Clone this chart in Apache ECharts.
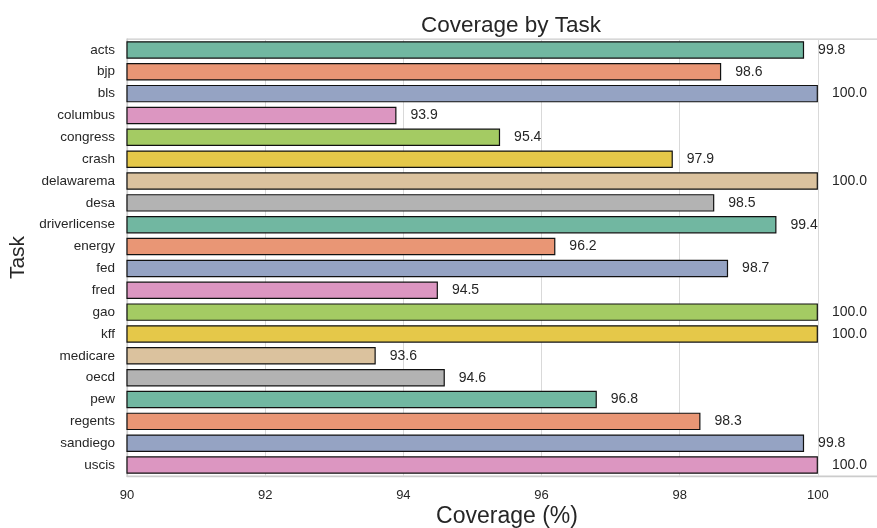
<!DOCTYPE html>
<html>
<head>
<meta charset="utf-8">
<script src="https://cdn.jsdelivr.net/npm/echarts@6/dist/echarts.min.js"></script>
<style>
html,body{margin:0;padding:0;background:#fff;}
#chart{width:877px;height:528px;}
</style>
</head>
<body>
<div id="chart"></div>
<script>
const categories = ["acts","bjp","bls","columbus","congress","crash","delawarema","desa","driverlicense","energy","fed","fred","gao","kff","medicare","oecd","pew","regents","sandiego","uscis"];
const coverage = [99.8,98.6,100.0,93.9,95.4,97.9,100.0,98.5,99.4,96.2,98.7,94.5,100.0,100.0,93.6,94.6,96.8,98.3,99.8,100.0];
const palette = ["#71b7a1","#e99675","#95a3c3","#dc96c1","#a4cb63","#e5c849","#dbc29e","#b3b3b3"];

const font = "'Liberation Sans', Arial, sans-serif";
const chart = echarts.init(document.getElementById('chart'), null, {renderer:'canvas'});
chart.setOption({
  backgroundColor:'#ffffff',
  animation:false,
  title:{
    text:'Coverage by Task',
    left:506, top:9, textAlign:'center',
    textStyle:{fontFamily:font, fontSize:22.5, fontWeight:'normal', color:'#262626'}
  },
  grid:{
    left:127, top:39, width:760, height:437,
    outerBoundsMode:'none', containLabel:false,
    show:true, borderColor:'#cccccc', borderWidth:1.25, backgroundColor:'transparent'
  },
  xAxis:{
    type:'value', min:90, max:101, interval:2,
    name:'Coverage (%)', nameLocation:'middle', nameGap:29, nameMoveOverlap:false,
    nameTextStyle:{fontFamily:font, fontSize:23, color:'#262626', align:'center'},
    axisLine:{show:true, lineStyle:{color:'#cccccc', width:1.25}},
    axisTick:{show:false},
    axisLabel:{fontFamily:font, fontSize:13, color:'#262626', margin:13,
      formatter:v => (v > 100.5 ? '' : String(v))},
    splitLine:{show:true, lineStyle:{color:'#d9d9d9', width:1}}
  },
  yAxis:{
    type:'category', data:categories, inverse:true,
    name:'Task', nameLocation:'middle', nameGap:98, nameRotate:90, nameMoveOverlap:false,
    nameTextStyle:{fontFamily:font, fontSize:21, color:'#262626'},
    axisLine:{show:true, lineStyle:{color:'#cccccc', width:1.25}},
    axisTick:{show:false},
    axisLabel:{fontFamily:font, fontSize:13.5, color:'#262626', margin:12},
    splitLine:{show:false}
  },
  series:[{
    type:'bar',
    data:coverage.map((v,i)=>({value:v, itemStyle:{color:palette[i%palette.length]}})),
    barCategoryGap:'20%',
    itemStyle:{borderColor:'#111111', borderWidth:1.2},
    label:{show:true, position:'right', distance:14,
      fontFamily:font, fontSize:14, color:'#262626',
      formatter:p => p.value.toFixed(1)}
  }]
});
</script>
</body>
</html>
